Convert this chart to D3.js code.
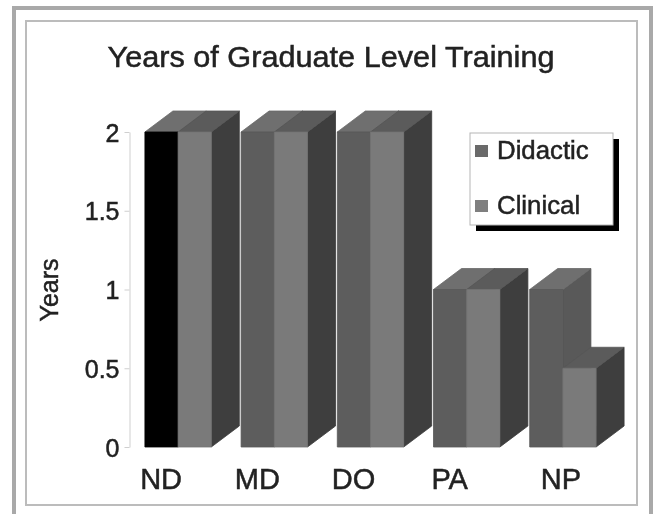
<!DOCTYPE html>
<html><head><meta charset="utf-8">
<script src="https://cdnjs.cloudflare.com/ajax/libs/d3/7.8.5/d3.min.js"></script>
<style>html,body{margin:0;padding:0;background:#fff;overflow:hidden}svg{display:block;filter:blur(.55px)}text{font-family:"Liberation Sans",Arial,sans-serif;fill:#222;stroke:#222;stroke-width:.5px}</style>
</head><body><svg id="c" width="655" height="514"></svg>
<script>
const categories=["ND","MD","DO","PA","NP"];
const seriesNames=["Didactic","Clinical"];
const didactic=[2,2,2,1,1];
const clinical=[2,2,2,1,0.5];
const yTicks=[0,0.5,1,1.5,2];
const titleText="Years of Graduate Level Training";
const yTitle="Years";

const svg=d3.select("#c");
const shade={didFront:"#5d5d5d",ndFront:"#000",didTop:"#6f6f6f",didSide:"#595959",cliFront:"#7a7a7a",cliTop:"#5b5b5b",cliSide:"#3e3e3e"};
const dx=28,dy=-21;
const x=d3.scaleBand().domain(categories).range([130,611]).paddingInner(.31).paddingOuter(.155);
const xs=d3.scaleBand().domain(seriesNames).range([0,x.bandwidth()]);
const y=d3.scaleLinear().domain([0,2]).range([447,132]);

// frames
svg.append("path").attr("d","M14,514V8H651V514").attr("fill","none").attr("stroke","#a9a9a9").attr("stroke-width",4);
svg.append("rect").attr("x",26).attr("y",21).attr("width",611).attr("height",484).attr("fill","#fff").attr("stroke","#bcbcbc").attr("stroke-width",2);

svg.append("text").attr("x",331).attr("y",67).attr("text-anchor","middle").attr("font-size",29.5).attr("textLength",447).attr("lengthAdjust","spacingAndGlyphs").text(titleText);

// axes
const gy=svg.append("g").attr("transform","translate(129.5,0)").call(d3.axisLeft(y).tickValues(yTicks).tickSize(5).tickSizeOuter(0).tickPadding(5).tickFormat(d3.format("~g")));
gy.select(".domain").attr("stroke","#cfcfcf");
gy.selectAll(".tick line").attr("stroke","#cfcfcf");
gy.selectAll("text").attr("font-size",25).attr("font-family","Liberation Sans").attr("dy","0.36em");
svg.append("text").attr("transform","translate(58,290) rotate(-90)").attr("text-anchor","middle").attr("font-size",25).text(yTitle);
const gx=svg.append("g").attr("transform","translate(-17,447)").call(d3.axisBottom(x).tickSize(0).tickPadding(21));
gx.select(".domain").remove();
gx.selectAll("text").attr("font-size",29).attr("font-family","Liberation Sans").attr("dy","0.71em")
  .filter(d=>d==="NP").attr("dx",15);

// bars, back to front: each group's didactic, then clinical
const poly=(g,pts,fill)=>g.append("polygon").attr("points",pts.map(p=>p.join(",")).join(" ")).attr("fill",fill).attr("stroke",d3.color(fill).darker(.15)).attr("stroke-width",.8);
categories.forEach((c,i)=>{
  const g=svg.append("g").attr("class","group");
  [[didactic[i],seriesNames[0]],[clinical[i],seriesNames[1]]].forEach(([v,s],k)=>{
    const x0=x(c)+xs(s),x1=x0+xs.bandwidth(),t=y(v),b=y(0);
    const front=k?shade.cliFront:(c==="ND"?shade.ndFront:shade.didFront);
    poly(g,[[x1,b],[x1+dx,b+dy],[x1+dx,t+dy],[x1,t]],k?shade.cliSide:shade.didSide);
    poly(g,[[x0,t],[x0+dx,t+dy],[x1+dx,t+dy],[x1,t]],k?shade.cliTop:shade.didTop);
    poly(g,[[x0,t],[x1,t],[x1,b],[x0,b]],front);
  });
});

// legend
const lg=svg.append("g");
lg.append("rect").attr("x",476).attr("y",139).attr("width",143).attr("height",92).attr("fill","#000");
lg.append("rect").attr("x",470).attr("y",133).attr("width",143).attr("height",92).attr("fill","#fff").attr("stroke","#b5b5b5").attr("stroke-width",1);
seriesNames.forEach((s,i)=>{
  const cy=151+i*55;
  lg.append("rect").attr("x",475).attr("y",cy-6).attr("width",13).attr("height",12).attr("fill",i?"#7f7f7f":"#6a6a6a");
  lg.append("text").attr("x",497).attr("y",cy+8).attr("font-size",25.8).text(s);
});
</script></body></html>
